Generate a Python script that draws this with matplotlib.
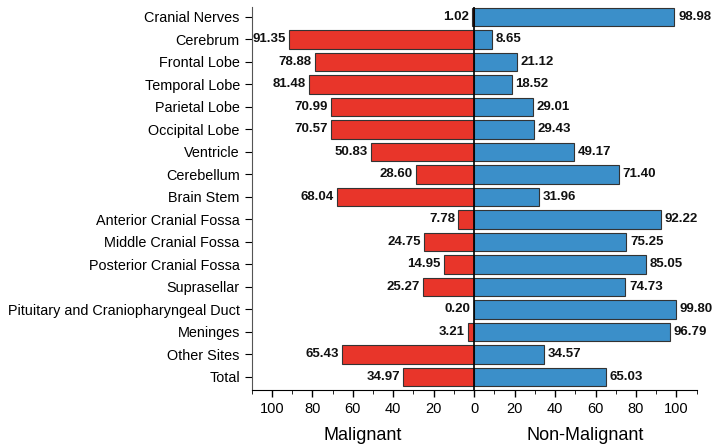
import numpy as np
import matplotlib.pyplot as plt

plt.rcParams['font.family'] = ['Liberation Sans', 'DejaVu Sans']

sitios = ["Cranial Nerves", "Cerebrum", "Frontal Lobe", "Temporal Lobe", "Parietal Lobe",
          "Occipital Lobe", "Ventricle", "Cerebellum", "Brain Stem", "Anterior Cranial Fossa",
          "Middle Cranial Fossa", "Posterior Cranial Fossa", "Suprasellar",
          "Pituitary and Craniopharyngeal Duct", "Meninges", "Other Sites", "Total"]
maligno = [1.02, 91.35, 78.88, 81.48, 70.99, 70.57, 50.83, 28.60, 68.04, 7.78,
           24.75, 14.95, 25.27, 0.20, 3.21, 65.43, 34.97]
benigno = [98.98, 8.65, 21.12, 18.52, 29.01, 29.43, 49.17, 71.40, 31.96, 92.22,
           75.25, 85.05, 74.73, 99.80, 96.79, 34.57, 65.03]
ticks = [-100, -80, -60, -40, -20, 0, 20, 40, 60, 80, 100]

fig = plt.figure(figsize=(7.19, 4.48), dpi=100)
ax = fig.add_axes([0.350, 0.1295, 0.619, 0.855])

y = np.arange(len(sitios))
ax.barh(y, -np.array(maligno), height=0.82, color="#E8352A", edgecolor="#333333", linewidth=0.8)
ax.barh(y, benigno, height=0.82, color="#3B8FC9", edgecolor="#333333", linewidth=0.8)
ax.axvline(0, color="black", linewidth=1.2)

for i in range(len(sitios)):
    ax.text(-maligno[i] - 1.6, y[i], "%.2f" % maligno[i], ha="right", va="center",
            fontsize=9.5, fontweight="bold", color="#111111")
    ax.text(benigno[i] + 1.8, y[i], "%.2f" % benigno[i], ha="left", va="center",
            fontsize=9.5, fontweight="bold", color="#111111")

ax.set_yticks(y)
ax.set_yticklabels(sitios, fontsize=10.4)
ax.set_ylim(len(sitios) - 0.42, -0.44)
ax.set_xlim(-110, 110)
ax.set_xticks(ticks)
ax.set_xticklabels([str(abs(t)) for t in ticks], fontsize=10.5)
ax.set_xticks(np.arange(-110, 111, 10), minor=True)
ax.tick_params(axis="x", which="major", length=5, width=1, direction="out")
ax.tick_params(axis="x", which="minor", length=3, direction="out")
ax.tick_params(axis="y", length=5)

ax.spines["top"].set_visible(False)
ax.spines["right"].set_visible(False)
ax.spines["left"].set_color("#555555")

fig.text(363 / 719, 1 - 435 / 448, "Malignant", ha="center", va="center", fontsize=13)
fig.text(585 / 719, 1 - 435 / 448, "Non-Malignant", ha="center", va="center", fontsize=13)

plt.savefig("out.png", dpi=100)
